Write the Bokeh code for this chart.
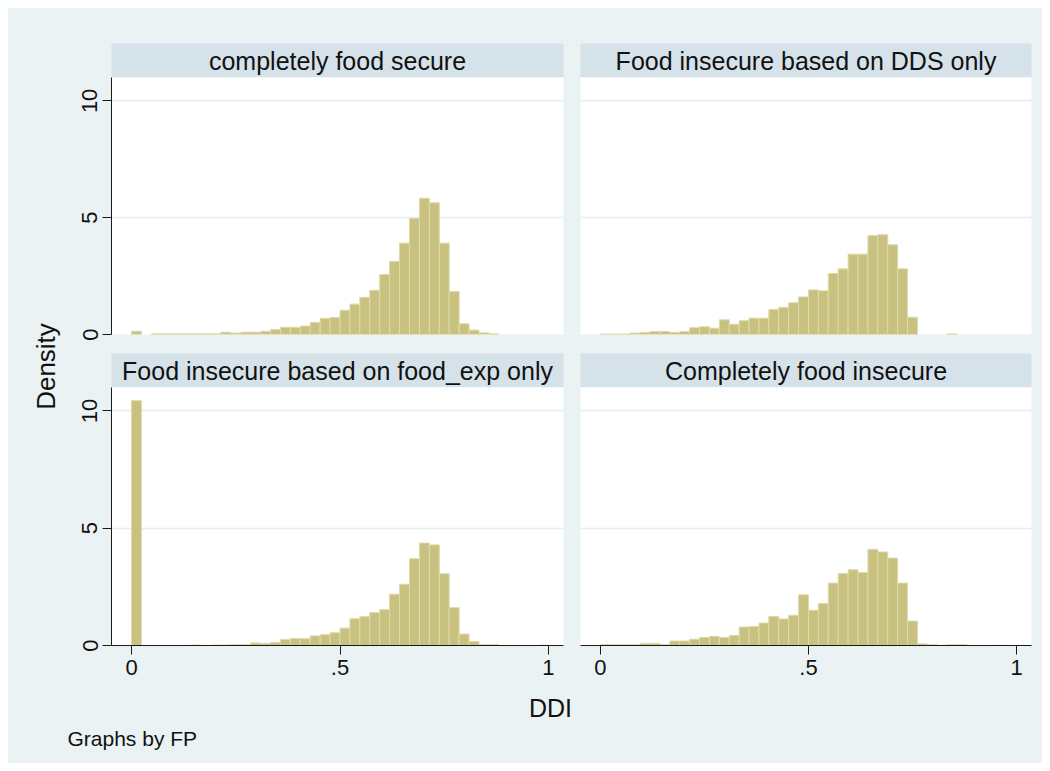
import math
import numpy as np
from bokeh.plotting import figure
from bokeh.layouts import row, column
from bokeh.models import Range1d, FixedTicker, Label
from bokeh.embed import file_html
from bokeh.resources import INLINE

# ---------------- data ----------------
n_bins = 42
bin_edges = np.linspace(0.0, 1.0, n_bins + 1)

panel_titles = [
    "completely food secure",
    "Food insecure based on DDS only",
    "Food insecure based on food_exp only",
    "Completely food insecure",
]

density_completely_secure = [
    0.14, 0, 0.03, 0.03, 0.03, 0.03, 0.03, 0.03, 0.03, 0.10,
    0.06, 0.10, 0.10, 0.14, 0.21, 0.31, 0.31, 0.36, 0.51, 0.69,
    0.73, 1.04, 1.30, 1.59, 1.89, 2.57, 3.13, 3.91, 4.97, 5.83,
    5.64, 3.91, 1.84, 0.46, 0.19, 0.07, 0.03, 0, 0, 0, 0, 0]

density_dds_only = [
    0.02, 0.02, 0.02, 0.06, 0.09, 0.13, 0.13, 0.09, 0.13, 0.29,
    0.33, 0.27, 0.63, 0.44, 0.59, 0.70, 0.70, 1.07, 1.16, 1.36,
    1.61, 1.91, 1.87, 2.61, 2.81, 3.44, 3.44, 4.23, 4.27, 3.84,
    2.81, 0.74, 0, 0, 0, 0.03, 0, 0, 0, 0, 0, 0]

density_food_exp_only = [
    10.44, 0, 0, 0, 0, 0, 0.02, 0, 0.02, 0.02,
    0.04, 0.04, 0.11, 0.09, 0.13, 0.26, 0.30, 0.29, 0.41, 0.46,
    0.54, 0.74, 1.14, 1.23, 1.40, 1.53, 2.19, 2.61, 3.70, 4.37,
    4.29, 3.06, 1.61, 0.49, 0.17, 0.04, 0.04, 0, 0, 0, 0, 0.02]

density_completely_insecure = [
    0.04, 0.04, 0.04, 0.04, 0.09, 0.09, 0.04, 0.19, 0.19, 0.27,
    0.34, 0.39, 0.34, 0.43, 0.79, 0.81, 0.96, 1.24, 1.13, 1.29,
    2.16, 1.50, 1.79, 2.66, 3.07, 3.23, 3.11, 4.10, 3.99, 3.73,
    2.66, 1.04, 0.07, 0.04, 0.01, 0.04, 0.04, 0, 0, 0, 0.01, 0]

x_tick_values = [0, 0.5, 1]
x_tick_labels = ["0", ".5", "1"]
y_tick_values = [0, 5, 10]
y_tick_labels = ["0", "5", "10"]

# ---------------- style ----------------
BG = "#EAF2F3"
STRIP = "#D6E2E9"
BAR_FILL = "#C9C17F"
BAR_LINE = "#DEDAAB"
GRID = "#E3ECEF"
AXIS = "#1a1a1a"
FONT = "Liberation Sans"
BGSTYLE = {"background-color": BG}

LEFT_W, LEFT_FRAME, LEFT_R = 48, 452, 17
RIGHT_FRAME, RIGHT_R = 451, 11
DENS_W = 55
X_RANGE = (-0.048, 1.036)
Y_RANGE = (0, 11)


def base_fig(width, height, xr, yr, mbl, mbr, mbt, mbb, xloc=None, yloc=None):
    p = figure(width=width, height=height, x_range=Range1d(*xr), y_range=Range1d(*yr),
               toolbar_location=None, output_backend="svg",
               x_axis_location=xloc, y_axis_location=yloc,
               min_border_left=mbl, min_border_right=mbr,
               min_border_top=mbt, min_border_bottom=mbb)
    p.border_fill_color = BG
    p.outline_line_color = None
    p.styles = BGSTYLE
    return p


def strip_fig(title, is_left, top_pad):
    if is_left:
        w, mbl, mbr = LEFT_W + LEFT_FRAME + LEFT_R, LEFT_W, LEFT_R
    else:
        w, mbl, mbr = RIGHT_FRAME + RIGHT_R, 0, RIGHT_R
    p = base_fig(w, top_pad + 34, (0, 1), (0, 1), mbl, mbr, top_pad, 0)
    p.background_fill_color = STRIP
    p.grid.grid_line_color = None
    p.add_layout(Label(x=0.5, y=0.5, text=title, text_align="center",
                       text_baseline="middle", text_font=FONT,
                       text_font_size="25px", text_color="#111111"))
    return p


def panel_fig(values, is_left, show_x, frame_h, bottom_pad):
    if is_left:
        w, mbl, mbr = LEFT_W + LEFT_FRAME + LEFT_R, LEFT_W, LEFT_R
    else:
        w, mbl, mbr = RIGHT_FRAME + RIGHT_R, 0, RIGHT_R
    p = base_fig(w, frame_h + bottom_pad, X_RANGE, Y_RANGE, mbl, mbr, 0, bottom_pad,
                 xloc="below" if show_x else None, yloc="left" if is_left else None)
    p.background_fill_color = "white"
    p.xgrid.grid_line_color = None
    p.ygrid.ticker = FixedTicker(ticks=[5, 10])
    p.ygrid.grid_line_color = GRID
    p.ygrid.grid_line_width = 1.5

    vals = np.asarray(values, dtype=float)
    mask = vals > 0
    p.quad(left=bin_edges[:-1][mask], right=bin_edges[1:][mask],
           bottom=0, top=vals[mask],
           fill_color=BAR_FILL, line_color=BAR_LINE, line_width=1)

    for ax in p.axis:
        ax.axis_line_color = AXIS
        ax.axis_line_width = 1
        ax.major_tick_line_color = AXIS
        ax.major_tick_out = 9
        ax.major_tick_in = 0
        ax.minor_tick_out = 0
        ax.minor_tick_in = 0
        ax.major_label_text_font = FONT
        ax.major_label_text_font_size = "22px"
        ax.major_label_text_color = "#111111"
        ax.major_label_standoff = 5
    if show_x:
        p.xaxis.ticker = FixedTicker(ticks=x_tick_values)
        p.xaxis.major_label_overrides = {v: l for v, l in zip(x_tick_values, x_tick_labels)}
    if is_left:
        p.yaxis.ticker = FixedTicker(ticks=y_tick_values)
        p.yaxis.major_label_overrides = {v: l for v, l in zip(y_tick_values, y_tick_labels)}
        p.yaxis.major_label_orientation = "vertical"
    return p


strip_tl = strip_fig(panel_titles[0], True, 35)
strip_tr = strip_fig(panel_titles[1], False, 35)
plot_tl = panel_fig(density_completely_secure, True, False, 257, 19)
plot_tr = panel_fig(density_dds_only, False, False, 257, 19)
strip_bl = strip_fig(panel_titles[2], True, 0)
strip_br = strip_fig(panel_titles[3], False, 0)
plot_bl = panel_fig(density_food_exp_only, True, True, 258, 45)
plot_br = panel_fig(density_completely_insecure, False, True, 258, 45)

grid_block = column(row(strip_tl, strip_tr, styles=BGSTYLE),
                    row(plot_tl, plot_tr, styles=BGSTYLE),
                    row(strip_bl, strip_br, styles=BGSTYLE),
                    row(plot_bl, plot_br, styles=BGSTYLE),
                    styles=BGSTYLE)

DENS_H = 35 + 34 + 257 + 19 + 34 + 258 + 45
dens = base_fig(DENS_W, DENS_H, (0, DENS_W), (0, DENS_H), 0, 0, 0, 0)
dens.background_fill_color = BG
dens.grid.grid_line_color = None
dens.add_layout(Label(x=37, y=DENS_H - 358, text="Density", angle=math.pi / 2,
                      text_align="center", text_baseline="middle", text_font=FONT,
                      text_font_size="26px", text_color="#111111"))

FOOT_W, FOOT_H = 1034, 73
foot = base_fig(FOOT_W, FOOT_H, (0, FOOT_W), (0, FOOT_H), 0, 0, 0, 0)
foot.background_fill_color = BG
foot.grid.grid_line_color = None
foot.add_layout(Label(x=542, y=FOOT_H - 17, text="DDI", text_align="center",
                      text_baseline="middle", text_font=FONT,
                      text_font_size="25px", text_color="#111111"))
foot.add_layout(Label(x=59, y=FOOT_H - 48, text="Graphs by FP", text_align="left",
                      text_baseline="middle", text_font=FONT,
                      text_font_size="21px", text_color="#111111"))

inner = column(row(dens, grid_block, styles=BGSTYLE), foot, styles=BGSTYLE)
layout = column(inner, margin=(8, 8, 8, 8))

with open("out.html", "w") as f:
    f.write(file_html(layout, INLINE))
